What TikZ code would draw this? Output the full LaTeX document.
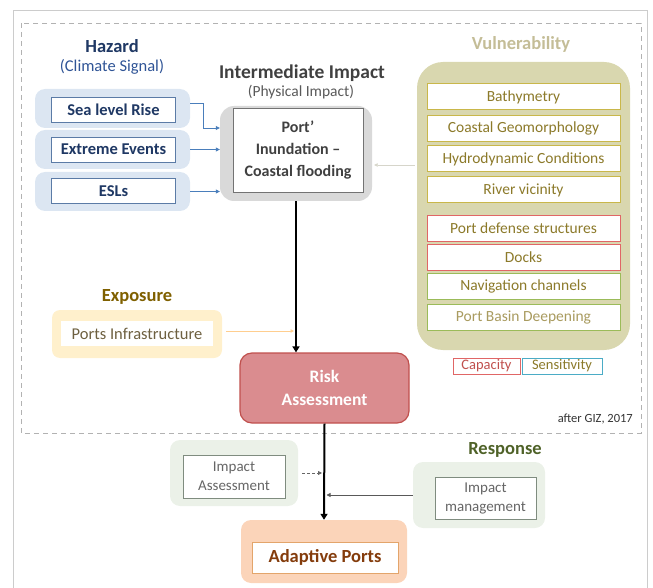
\documentclass[tikz,border=0pt]{standalone}
\usepackage{fontspec}
\setmainfont{Carlito}
\usetikzlibrary{arrows.meta}
\definecolor{hzdark}{HTML}{1F3864}
\definecolor{hzsub}{HTML}{2F5496}
\definecolor{hzbgc}{HTML}{DCE6F2}
\definecolor{hzbord}{HTML}{5B7BA6}
\definecolor{bluearrc}{HTML}{4A7EBB}
\definecolor{imptext}{HTML}{404040}
\definecolor{impbgc}{HTML}{D9D9D9}
\definecolor{vultitle}{HTML}{C4BD97}
\definecolor{vulbgc}{HTML}{D9D7AF}
\definecolor{vulgold}{HTML}{C9B74A}
\definecolor{vultext}{HTML}{8C7A2A}
\definecolor{vulred}{HTML}{E06666}
\definecolor{vulgreen}{HTML}{9BBB59}
\definecolor{vulcyan}{HTML}{4BACC6}
\definecolor{exptitle}{HTML}{7F6000}
\definecolor{expbgc}{HTML}{FFF0CC}
\definecolor{exptext}{HTML}{6E6040}
\definecolor{riskfill}{HTML}{DA8C8F}
\definecolor{riskbord}{HTML}{C0504D}
\definecolor{resptitle}{HTML}{4F6228}
\definecolor{respbgc}{HTML}{EBF1E8}
\definecolor{respbord}{HTML}{7F8C7F}
\definecolor{adbgc}{HTML}{FBD4B9}
\definecolor{adbord}{HTML}{E3A56B}
\definecolor{adtext}{HTML}{843C0C}
\begin{document}
\begin{tikzpicture}[x=1pt,y=-1pt,
  bgbox/.style={rounded corners=10pt, draw=none, inner sep=0pt},
  whitebox/.style={draw, fill=white, inner sep=0pt, align=center},
  heading/.style={font=\fontsize{18.5}{20}\selectfont\bfseries, inner sep=0pt},
  bluearr/.style={draw=bluearrc, line width=0.8pt, -{Triangle[width=4pt,length=4pt]}},
  blackarr/.style={draw=black, line width=2pt, -{Triangle[width=7pt,length=6pt]}},
  vitem/.style={whitebox, line width=1pt, minimum width=193pt, minimum height=26pt, text=vultext, font=\fontsize{15.5}{17}\selectfont}
]
\useasboundingbox (0,0) rectangle (653,588);
% frames
\draw[black!20, line width=1pt] (13,600) -- (13,11) -- (647,11) -- (647,600);
\draw[black!30, dashed, dash pattern=on 5pt off 4pt, line width=0.8pt] (21,23) rectangle (641,433);

% Hazard
\node[heading, text=hzdark] (hzt) at (112,46) {Hazard};
\node[text=hzsub, font=\fontsize{16.5}{18}\selectfont, inner sep=0pt] (hzs) at (112,67) {(Climate Signal)};
\node[bgbox, fill=hzbgc, minimum width=155pt, minimum height=39pt] (hbg1) at (112.5,108.5) {};
\node[bgbox, fill=hzbgc, minimum width=155pt, minimum height=39pt] (hbg2) at (112.5,149.5) {};
\node[bgbox, fill=hzbgc, minimum width=155pt, minimum height=39pt] (hbg3) at (112.5,191.5) {};
\node[whitebox, draw=hzbord, line width=0.8pt, minimum width=124pt, minimum height=25pt, text=hzdark, font=\fontsize{16.5}{18}\selectfont\bfseries] (slr) at (113.5,110) {Sea level Rise};
\node[whitebox, draw=hzbord, line width=0.8pt, minimum width=124pt, minimum height=25pt, text=hzdark, font=\fontsize{16.5}{18}\selectfont\bfseries] (ext) at (113.5,149.5) {Extreme Events};
\node[whitebox, draw=hzbord, line width=0.8pt, minimum width=124pt, minimum height=25pt, text=hzdark, font=\fontsize{16.5}{18}\selectfont\bfseries] (esl) at (113.5,191) {ESLs};

% Intermediate impact
\node[heading, font=\fontsize{19.5}{21}\selectfont\bfseries, text=imptext] (imt) at (302,73) {Intermediate Impact};
\node[text=black!65, font=\fontsize{15.5}{17}\selectfont, inner sep=0pt] (ims) at (301,92) {(Physical Impact)};
\node[bgbox, rounded corners=14pt, fill=impbgc, minimum width=152pt, minimum height=95pt] (impbg) at (296,153.5) {};
\node[whitebox, draw=black!55, line width=0.8pt, minimum width=130pt, minimum height=84pt, text=imptext, font=\fontsize{16}{22}\selectfont\bfseries] (impbox) at (298,150) {Port'\\Inundation --\\Coastal flooding};

% Vulnerability
\node[heading, text=vultitle] (vt) at (521,44) {Vulnerability};
\node[bgbox, rounded corners=26pt, fill=vulbgc, minimum width=213pt, minimum height=288pt] (vbg) at (523.5,206) {};
\node[vitem, draw=vulgold] (v1) at (523.5,97) {Bathymetry};
\node[vitem, draw=vulgold] (v2) at (523.5,128.5) {Coastal Geomorphology};
\node[vitem, draw=vulgold] (v3) at (523.5,159) {Hydrodynamic Conditions};
\node[vitem, draw=vulgold] (v4) at (523.5,190) {River vicinity};
\node[vitem, draw=vulred] (v5) at (523.5,228.5) {Port defense structures};
\node[vitem, draw=vulred] (v6) at (523.5,257) {Docks};
\node[vitem, draw=vulgreen] (v7) at (523.5,286.5) {Navigation channels};
\node[vitem, draw=vulgreen, text=vultext!75] (v8) at (523.5,317) {Port Basin Deepening};
\node[whitebox, draw=vulred, line width=0.8pt, minimum width=67pt, minimum height=16pt, text=riskbord, font=\fontsize{14.5}{16}\selectfont] (cap) at (486.5,366) {Capacity};
\node[whitebox, draw=vulcyan, line width=0.8pt, minimum width=80pt, minimum height=16pt, text=vultext, font=\fontsize{14.5}{16}\selectfont] (sens) at (562,366) {Sensitivity};

% Exposure
\node[heading, text=exptitle] (et) at (137,297) {Exposure};
\node[bgbox, rounded corners=8pt, fill=expbgc, minimum width=170pt, minimum height=48pt] (expbg) at (137,334) {};
\node[whitebox, draw=none, minimum width=152pt, minimum height=25pt, text=exptext, font=\fontsize{16.5}{18}\selectfont] (expbox) at (137,333.5) {Ports Infrastructure};

% Risk
\node[rounded corners=12pt, fill=riskfill, draw=riskbord, line width=1.2pt, minimum width=169pt, minimum height=70pt, inner sep=0pt, align=center, text=white, font=\fontsize{17.5}{23}\selectfont\bfseries] (risk) at (324.5,388) {Risk\\Assessment};

\node[anchor=east, inner sep=0pt, font=\fontsize{12.5}{14}\selectfont, text=black!80] (giz) at (633,419) {after GIZ, 2017};

% Response
\node[heading, text=resptitle] (rt) at (505,450) {Response};
\node[bgbox, fill=respbgc, minimum width=128pt, minimum height=66pt] (iabg) at (234,473) {};
\node[whitebox, draw=respbord, line width=0.8pt, minimum width=102pt, minimum height=43pt, text=black!60, font=\fontsize{15}{19}\selectfont] (iabox) at (234,476.5) {Impact\\Assessment};
\node[bgbox, fill=respbgc, minimum width=132pt, minimum height=66pt] (imbg) at (479,495) {};
\node[whitebox, draw=respbord, line width=0.8pt, minimum width=101pt, minimum height=42pt, text=black!60, font=\fontsize{15}{19}\selectfont] (imbox) at (485.5,498) {Impact\\management};

% Adaptive
\node[bgbox, fill=adbgc, minimum width=166pt, minimum height=63pt] (adbg) at (324,551.5) {};
\node[whitebox, draw=adbord, line width=0.8pt, minimum width=146pt, minimum height=31pt, text=adtext, font=\fontsize{18.5}{20}\selectfont\bfseries] (adbox) at (325,557.5) {Adaptive Ports};

% connectors
\draw[bluearr] ([yshift=5pt]hbg1.east) -- ++(13,0) |- ([yshift=25.5pt]impbg.west);
\draw[bluearr] (hbg2.east) -- (hbg2.east -| impbg.west);
\draw[bluearr] (hbg3.east) -- (hbg3.east -| impbg.west);
\draw[draw=vulbgc!70!black!40, line width=0.6pt, -{Triangle[width=3.5pt,length=3.5pt]}] ([yshift=41pt,xshift=-2pt]vbg.west) coordinate (va) -- ([xshift=2pt]va -| impbg.east);
\draw[blackarr] (impbg.south) -- (impbg.south |- risk.north);
\draw[draw=expbgc!70!orange, line width=0.8pt, -{Triangle[width=3.5pt,length=3.5pt]}, shorten <=4pt, shorten >=2pt] ([yshift=3pt]expbg.east) coordinate (ea) -- (ea -| impbg.south);
\draw[blackarr] (risk.south) -- (adbg.north);
\draw[draw=black!60, dashed, dash pattern=on 3pt off 2pt, line width=0.8pt, -{Triangle[width=4pt,length=4pt]}, shorten <=4pt, shorten >=2.5pt] (iabg.east) -- (iabg.east -| risk.south);
\draw[draw=black!65, line width=0.8pt, -{Triangle[width=4pt,length=4pt]}, shorten >=2pt] (imbg.west) -- (imbg.west -| risk.south);
\end{tikzpicture}
\end{document}
